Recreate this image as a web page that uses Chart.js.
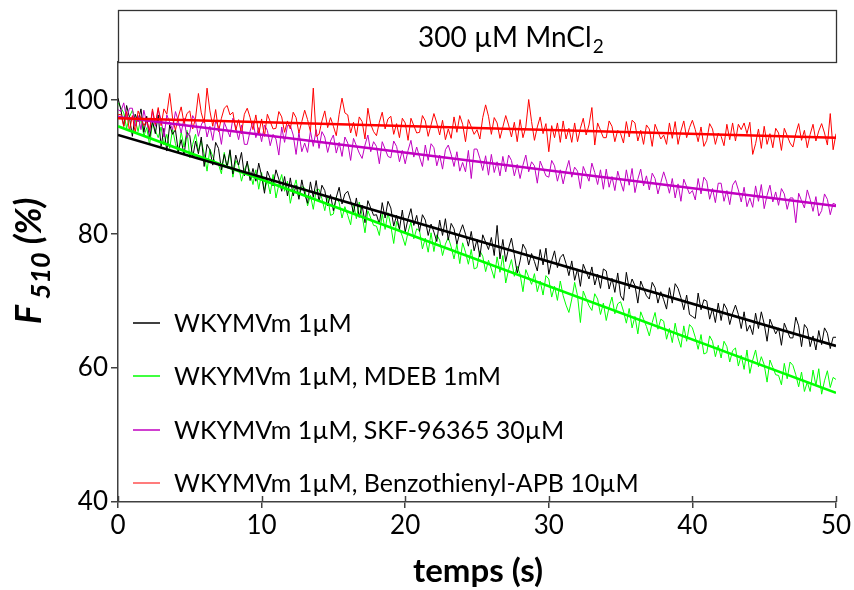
<!DOCTYPE html>
<html>
<head>
<meta charset="utf-8">
<script src="https://cdn.jsdelivr.net/npm/chart.js@4.4.1/dist/chart.umd.min.js"></script>
<style>
  html, body { margin: 0; padding: 0; background: #fff; }
  #wrap { width: 854px; height: 590px; }
</style>
</head>
<body>
<div id="wrap"><canvas id="mnChart" width="854" height="590"></canvas></div>
<script>
// temps d'acquisition : un point toutes les 0,2 s, de 0 à 50 s
const sampleStep = 0.2;

// F510 (%) - WKYMVm 1µM
const seriesBlack = [
  100.3, 98.6, 96.1, 99.2, 97.4, 94.6, 97.9, 96.8, 98.7, 95.2, 97.6, 94.3, 96.9, 95.0, 97.8, 93.1, 95.8, 92.4, 96.3, 94.9,
  95.6, 92.3, 94.1, 91.8, 95.2, 94.7, 91.4, 93.9, 92.0, 94.5, 90.1, 93.4, 92.6, 90.3, 93.7, 92.8, 89.6, 91.9, 90.0, 92.6,
  89.0, 91.8, 90.3, 92.2, 88.7, 90.9, 88.0, 89.8, 87.9, 90.6,
  88.7, 86.1, 89.4, 88.3, 87.2, 89.6, 88.2, 86.4, 88.6, 85.7, 88.4, 85.7, 87.3, 85.2, 88.1, 86.0, 84.6, 87.8, 85.5, 88.0,
  84.8, 87.3, 86.5, 84.2, 85.9, 83.5, 85.5, 87.0, 84.5, 86.0, 86.4, 85.0, 83.2, 85.4, 82.5, 84.3, 81.7, 85.0, 83.9, 82.8,
  82.9, 81.5, 84.7, 82.4, 84.9, 83.9, 81.2, 82.8, 80.7, 83.6,
  80.3, 82.3, 83.8, 81.3, 82.8, 80.4, 82.9, 82.1, 79.8, 81.5, 80.3, 78.9, 82.1, 79.8, 82.3, 79.1, 81.6, 80.8, 78.5, 80.2,
  81.4, 80.0, 78.2, 80.4, 77.5, 79.2, 76.6, 79.9, 78.8, 77.7, 79.5, 76.8, 81.3, 76.3, 79.2, 75.9, 77.9, 79.4, 76.9, 74.2,
  76.0, 78.5, 77.7, 75.4, 77.1, 75.9, 74.5, 77.7, 75.4, 77.9,
  74.0, 76.0, 77.5, 75.0, 76.5, 77.0, 75.6, 73.8, 76.0, 73.1, 74.8, 72.2, 75.5, 74.4, 73.3, 75.1, 72.4, 74.0, 71.9, 74.8,
  74.5, 71.8, 73.4, 71.3, 74.2, 70.8, 70.1, 74.3, 71.8, 73.3, 72.3, 69.7, 73.0, 71.9, 70.8, 70.3, 72.8, 72.0, 69.7, 71.4,
  70.2, 68.8, 72.0, 69.7, 72.6, 71.9, 70.5, 68.7, 70.9, 68.0,
  67.7, 67.4, 71.2, 68.7, 70.2, 70.0, 67.3, 68.9, 66.8, 69.7, 67.1, 69.6, 68.8, 66.5, 68.2, 69.4, 68.0, 65.9, 68.4, 65.5,
  66.4, 65.0, 68.2, 65.9, 68.4, 66.6, 64.0, 67.3, 66.2, 65.1, 66.0, 63.4, 66.7, 65.6, 64.5, 64.5, 67.6, 66.3, 63.2, 66.5,
  65.9, 63.2, 64.8, 62.7, 65.6, 63.5, 66.0, 65.2, 62.9, 64.6,
  64.6
];

// F510 (%) - WKYMVm 1µM, MDEB 1mM
const seriesGreen = [
  99.6, 98.9, 98.1, 95.8, 97.5, 98.5, 97.1, 95.3, 97.5, 94.6, 95.9, 93.3, 96.6, 95.5, 94.4, 96.0, 93.3, 94.9, 92.8, 95.7,
  93.5, 92.1, 95.3, 93.0, 95.5, 91.4, 93.4, 94.9, 92.4, 93.9, 92.0, 89.4, 92.7, 91.6, 90.5, 90.4, 89.0, 92.2, 89.9, 92.4,
  88.5, 91.0, 90.2, 87.9, 89.6, 90.6, 89.2, 87.4, 89.6, 86.7,
  89.2, 86.5, 88.1, 86.0, 88.9, 85.4, 87.4, 88.9, 86.4, 87.9, 84.6, 86.6, 88.1, 85.6, 87.1, 86.9, 84.2, 85.8, 83.7, 86.6,
  86.7, 85.3, 83.5, 85.7, 82.8, 83.0, 85.5, 84.7, 82.4, 84.1, 82.8, 81.4, 84.6, 82.3, 84.8, 82.8, 80.2, 83.5, 82.4, 81.3,
  81.2, 79.8, 83.0, 80.7, 83.2, 81.2, 78.6, 81.9, 80.8, 79.7,
  78.3, 80.3, 81.8, 79.3, 80.8, 80.5, 77.8, 79.4, 77.3, 80.2, 77.4, 79.9, 79.1, 76.8, 78.5, 79.5, 78.1, 76.3, 78.5, 75.6,
  78.7, 77.3, 75.5, 77.7, 74.8, 75.0, 77.5, 76.7, 74.4, 76.1, 74.8, 73.4, 76.6, 74.3, 76.8, 72.7, 74.7, 76.2, 73.7, 75.2,
  74.0, 71.4, 74.7, 73.6, 72.5, 74.1, 71.4, 73.0, 70.9, 73.8,
  73.3, 70.6, 72.2, 70.1, 73.0, 70.8, 69.4, 68.3, 70.3, 72.8, 70.8, 66.8, 71.5, 70.4, 69.3, 68.6, 71.1, 70.3, 68.0, 69.7,
  67.1, 69.1, 70.6, 68.1, 69.6, 69.9, 68.5, 66.7, 68.9, 66.0, 67.7, 65.1, 68.4, 67.3, 66.2, 64.8, 66.8, 68.3, 65.8, 67.3,
  67.0, 64.3, 65.9, 63.8, 66.7, 64.5, 63.1, 66.3, 64.0, 66.5,
  66.0, 64.6, 62.8, 65.0, 62.1, 62.3, 64.8, 64.0, 61.7, 63.4, 61.5, 64.0, 63.2, 60.9, 62.6, 63.0, 60.3, 61.9, 59.8, 62.7,
  59.2, 61.2, 62.7, 60.2, 61.7, 60.5, 57.9, 61.2, 60.1, 59.0, 58.9, 57.5, 60.7, 58.4, 60.9, 60.4, 59.0, 57.2, 59.4, 56.5,
  57.9, 56.5, 59.7, 57.4, 59.9, 56.1, 58.1, 59.6, 57.1, 58.6,
  58.3
];

// F510 (%) - WKYMVm 1µM, SKF-96365 30µM
const seriesMagenta = [
  98.6, 98.3, 99.6, 97.3, 98.8, 98.8, 96.1, 97.7, 95.6, 98.5, 96.6, 95.2, 98.4, 96.1, 98.6, 97.1, 94.5, 97.8, 96.7, 95.6,
  98.3, 96.9, 95.1, 97.3, 94.4, 95.2, 97.7, 96.9, 94.6, 96.3, 97.2, 94.5, 96.1, 94.0, 96.9, 96.0, 93.4, 96.7, 95.6, 94.5,
  97.3, 95.9, 94.1, 96.3, 93.4, 93.4, 95.4, 96.9, 94.4, 95.9,
  93.8, 96.3, 95.5, 93.2, 94.9, 94.2, 91.8, 96.0, 93.7, 96.2, 96.2, 94.8, 91.9, 95.2, 92.3, 93.6, 92.2, 95.4, 93.1, 95.6,
  92.8, 95.3, 94.5, 92.2, 93.9, 94.8, 92.1, 93.7, 91.6, 94.5, 93.6, 91.0, 94.3, 93.2, 92.1, 91.3, 93.3, 94.8, 92.3, 93.8,
  93.1, 90.5, 93.8, 92.7, 91.6, 91.4, 93.9, 93.1, 90.8, 92.5,
  90.5, 92.5, 94.0, 91.5, 93.0, 91.5, 90.1, 93.3, 91.0, 93.5, 92.9, 90.2, 91.8, 89.7, 92.6, 93.3, 91.9, 90.1, 92.3, 89.4,
  90.7, 89.3, 92.5, 88.3, 92.7, 92.7, 91.3, 89.5, 91.7, 88.8, 91.9, 89.2, 90.8, 88.7, 91.6, 89.3, 91.8, 91.0, 88.7, 90.4,
  88.3, 90.3, 91.8, 89.3, 90.8, 90.2, 87.6, 90.9, 89.8, 88.7,
  88.5, 91.0, 90.2, 87.9, 89.6, 87.5, 89.5, 91.0, 88.5, 90.0, 89.4, 86.8, 90.1, 89.0, 87.9, 90.6, 89.2, 87.4, 89.6, 86.7,
  89.7, 87.0, 88.6, 86.5, 89.4, 87.8, 86.4, 89.6, 87.3, 89.8, 86.2, 88.2, 89.7, 87.2, 88.7, 86.6, 89.1, 88.3, 86.0, 87.7,
  89.3, 87.9, 86.1, 88.3, 85.4, 87.5, 84.9, 88.2, 87.1, 86.0,
  86.5, 85.1, 88.3, 86.0, 88.5, 87.9, 85.2, 86.8, 84.7, 87.6, 87.6, 84.9, 86.5, 84.4, 87.3, 88.0, 86.6, 84.8, 87.0, 84.1,
  85.4, 84.0, 87.2, 84.9, 87.4, 83.8, 85.8, 87.3, 84.8, 86.3, 84.3, 86.8, 86.0, 83.7, 85.4, 85.4, 81.7, 86.1, 85.0, 83.9,
  86.6, 85.2, 83.4, 85.6, 82.7, 83.5, 86.0, 85.2, 82.9, 84.6,
  84.4
];

// F510 (%) - WKYMVm 1µM, Benzothienyl-APB 10µM
const seriesRed = [
  97.8, 97.9, 96.1, 98.3, 95.4, 97.7, 95.1, 98.4, 97.3, 96.2, 96.9, 95.5, 98.7, 96.4, 98.9, 96.2, 98.7, 97.9, 101.0, 97.3,
  95.5, 97.5, 99.0, 96.5, 98.0, 98.4, 95.7, 97.3, 101.0, 98.1, 96.6, 101.8, 98.4, 96.1, 98.6, 95.3, 97.3, 98.8, 99.2, 97.8,
  98.2, 95.5, 97.1, 95.0, 97.9, 98.8, 97.4, 95.6, 97.8, 94.9,
  97.2, 94.6, 97.9, 96.8, 95.7, 95.8, 98.3, 97.5, 95.2, 96.9, 95.7, 98.2, 97.4, 95.1, 96.8, 98.5, 97.1, 95.3, 101.8, 94.6,
  94.9, 96.9, 98.4, 95.9, 97.4, 96.1, 94.7, 97.9, 100.3, 98.1, 97.8, 95.1, 96.7, 94.6, 97.5, 96.8, 94.2, 98.8, 96.4, 95.3,
  94.7, 96.7, 98.2, 95.7, 97.2, 97.6, 94.9, 96.5, 94.4, 97.3,
  96.6, 94.0, 97.3, 96.2, 95.1, 95.2, 97.7, 96.9, 94.6, 96.3, 98.0, 96.6, 94.8, 97.0, 94.1, 95.7, 94.3, 97.5, 95.2, 97.7,
  96.4, 93.8, 97.1, 96.0, 94.9, 95.6, 94.2, 97.4, 99.3, 97.6, 94.9, 97.4, 96.6, 94.3, 96.0, 97.7, 96.3, 94.5, 96.7, 93.8,
  97.1, 94.4, 96.0, 100.1, 96.8, 94.0, 96.0, 97.5, 95.0, 96.5,
  92.3, 96.2, 94.4, 96.6, 93.7, 96.9, 94.2, 95.8, 93.7, 96.6, 93.8, 95.8, 97.3, 94.8, 96.3, 98.9, 93.3, 96.6, 95.5, 94.4,
  94.4, 96.9, 96.1, 93.8, 95.5, 95.0, 93.6, 96.8, 94.5, 97.0, 96.6, 93.9, 95.5, 93.4, 96.3, 95.7, 93.1, 96.4, 95.3, 94.2,
  94.8, 93.4, 96.6, 94.3, 96.8, 93.4, 95.4, 96.9, 94.4, 95.9,
  97.0, 95.6, 93.8, 96.0, 93.1, 94.0, 96.5, 95.7, 93.4, 95.1, 94.6, 93.2, 96.4, 94.1, 96.6, 93.9, 96.4, 95.6, 96.6, 95.0,
  96.7, 91.9, 93.5, 95.7, 92.8, 96.1, 93.4, 95.0, 92.9, 95.8, 95.1, 92.5, 95.8, 94.7, 93.6, 93.0, 95.0, 96.5, 94.0, 95.5,
  92.9, 94.9, 96.4, 93.9, 95.4, 96.5, 95.1, 93.3, 98.0, 92.6,
  95.0
];

// droites d'ajustement (début et fin de l'enregistrement)
const fitTimes = [0, 50];
const fitBlack = [94.8, 63.3];
const fitGreen = [96.1, 56.3];
const fitMagenta = [97.5, 84.2];
const fitRed = [97.3, 94.4];

// axes
const xTicks = [0, 10, 20, 30, 40, 50];
const yTicks = [40, 60, 80, 100];

const legendLabels = [
  'WKYMVm 1µM',
  'WKYMVm 1µM, MDEB 1mM',
  'WKYMVm 1µM, SKF-96365 30µM',
  'WKYMVm 1µM, Benzothienyl-APB 10µM'
];
const legendColors = ['#000000', '#00ff00', '#c000c0', '#ff5050'];

const FONT = 'Lato, "Open Sans", sans-serif';

function toPoints(values) {
  return values.map((v, i) => ({ x: i * sampleStep, y: v }));
}
function fitPoints(values) {
  return values.map((v, i) => ({ x: fitTimes[i], y: v }));
}

function trace(data, color, order) {
  return { data: toPoints(data), borderColor: color, borderWidth: 1, pointRadius: 0, order: order };
}
function fit(data, color, order) {
  return { data: fitPoints(data), borderColor: color, borderWidth: 2.6, pointRadius: 0, order: order };
}

// titre encadré, titres des axes, légende
const decorPlugin = {
  id: 'decor',
  afterDraw(chart) {
    const ctx = chart.ctx;
    const area = chart.chartArea;
    ctx.save();

    // cadre du titre
    ctx.strokeStyle = '#333';
    ctx.lineWidth = 1.3;
    ctx.strokeRect(area.left + 0.5, 10.5, area.right - area.left, area.top - 10);
    ctx.fillStyle = '#000';
    ctx.textBaseline = 'alphabetic';
    ctx.textAlign = 'left';
    ctx.font = '28px ' + FONT;
    const t1 = '300 µM MnCl';
    ctx.fillText(t1, 418, 47);
    const w1 = ctx.measureText(t1).width;
    ctx.font = '19px ' + FONT;
    ctx.fillText('2', 418 + w1 + 1, 53);

    // petites graduations au-dessus de l'axe x
    const xs = chart.scales.x;
    ctx.strokeStyle = '#404040';
    ctx.lineWidth = 1.5;
    xTicks.forEach(v => {
      const px = Math.round(xs.getPixelForValue(v)) + 0.5;
      ctx.beginPath();
      ctx.moveTo(px, area.bottom);
      ctx.lineTo(px, area.bottom - 6);
      ctx.stroke();
    });

    // titre de l'axe x
    ctx.fillStyle = '#000';
    ctx.textAlign = 'center';
    ctx.font = 'bold 33px ' + FONT;
    ctx.fillText('temps (s)', 478, 582);

    // titre de l'axe y : F510 (%)
    ctx.save();
    ctx.translate(41, 261);
    ctx.rotate(-Math.PI / 2);
    ctx.textAlign = 'left';
    const partF = 'F';
    const partSub = ' 510';
    const partPct = ' (%)';
    ctx.font = 'italic bold 36px ' + FONT;
    const wF = ctx.measureText(partF).width;
    const wPct = ctx.measureText(partPct).width;
    ctx.font = 'italic bold 27px ' + FONT;
    const wSub = ctx.measureText(partSub).width;
    const x0 = -(wF + wSub + wPct) / 2;
    ctx.font = 'italic bold 36px ' + FONT;
    ctx.fillText(partF, x0, 0);
    ctx.font = 'italic bold 27px ' + FONT;
    ctx.fillText(partSub, x0 + wF, 9);
    ctx.font = 'italic bold 36px ' + FONT;
    ctx.fillText(partPct, x0 + wF + wSub, 0);
    ctx.restore();

    // légende
    const rowY = [323, 376, 430, 483];
    ctx.textAlign = 'left';
    ctx.textBaseline = 'middle';
    ctx.font = '25px ' + FONT;
    legendLabels.forEach((label, i) => {
      ctx.strokeStyle = legendColors[i];
      ctx.lineWidth = 1.5;
      ctx.beginPath();
      ctx.moveTo(133, rowY[i]);
      ctx.lineTo(160, rowY[i]);
      ctx.stroke();
      ctx.fillStyle = '#000';
      ctx.fillText(label, 174, rowY[i] + 1);
    });

    ctx.restore();
  }
};

const chart = new Chart(document.getElementById('mnChart'), {
  type: 'line',
  data: {
    datasets: [
      fit(fitRed, '#ff0000', 1),
      fit(fitMagenta, '#c000c0', 2),
      fit(fitBlack, '#000000', 3),
      fit(fitGreen, '#00ff00', 4),
      trace(seriesRed, '#ff0000', 5),
      trace(seriesMagenta, '#c000c0', 6),
      trace(seriesBlack, '#000000', 7),
      trace(seriesGreen, '#00ff00', 8)
    ]
  },
  options: {
    responsive: false,
    animation: false,
    layout: { padding: { top: 62, right: 18, left: 0, bottom: 0 } },
    plugins: { legend: { display: false }, tooltip: { enabled: false } },
    elements: { line: { tension: 0 } },
    scales: {
      x: {
        type: 'linear',
        min: 0,
        max: 50,
        afterFit(scale) { scale.height = 88; },
        afterBuildTicks(scale) { scale.ticks = xTicks.map(v => ({ value: v })); },
        ticks: { color: '#000', font: { family: FONT, size: 26 }, padding: 2, maxRotation: 0 },
        grid: { drawOnChartArea: false, tickLength: 6, color: '#404040', lineWidth: 1.5 },
        border: { color: '#404040', width: 1.5 }
      },
      y: {
        min: 40,
        max: 105.7,
        afterFit(scale) { scale.width = 118; },
        afterBuildTicks(scale) { scale.ticks = yTicks.map(v => ({ value: v })); },
        ticks: { color: '#000', font: { family: FONT, size: 26 }, padding: 3 },
        grid: { drawOnChartArea: false, tickLength: 7, color: '#404040', lineWidth: 1.5 },
        border: { color: '#404040', width: 1.5 }
      }
    }
  },
  plugins: [decorPlugin]
});
</script>
</body>
</html>
